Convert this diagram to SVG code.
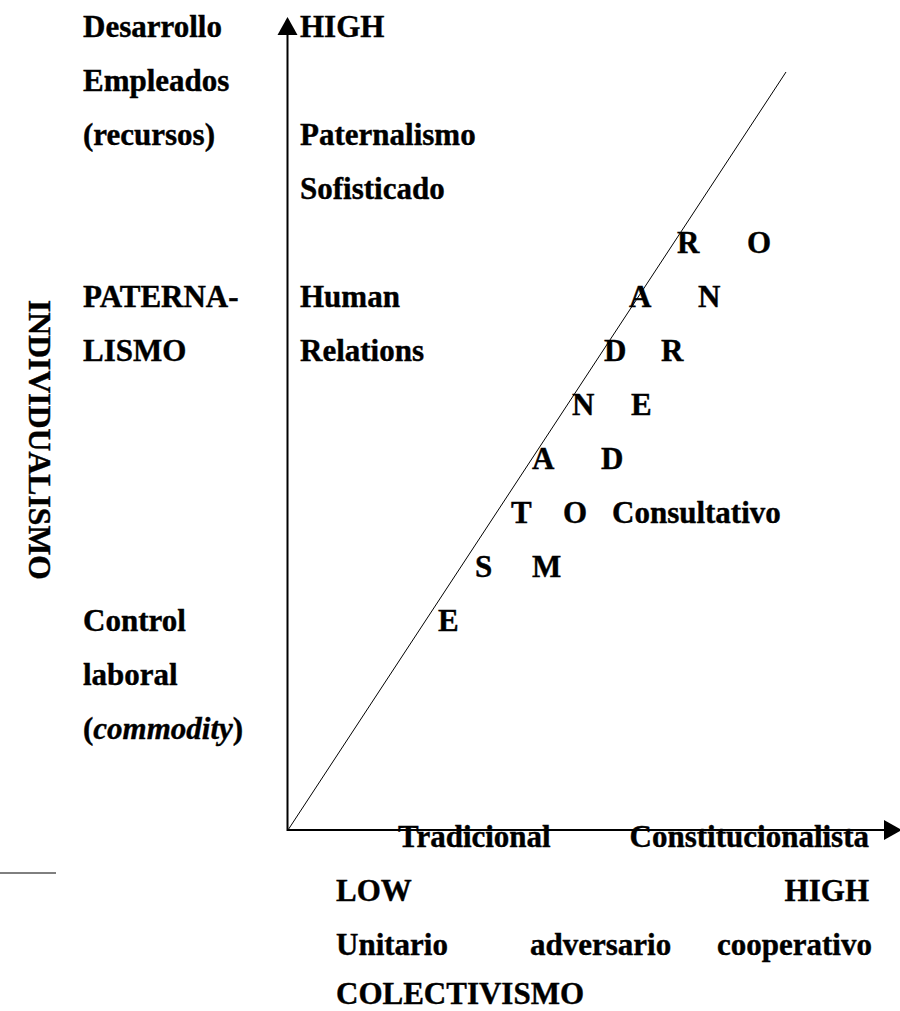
<svg xmlns="http://www.w3.org/2000/svg" width="900" height="1011" viewBox="0 0 900 1011">
  <style>
    text { font-family: "Liberation Serif", "Times New Roman", serif; font-weight: bold; font-size: 31px; fill: #000; stroke: #000; stroke-width: 0.4; }
    .it { font-style: italic; }
    .axis { stroke: #000; stroke-width: 2; fill: none; }
    .thin { stroke: #000; stroke-width: 1; fill: none; }
  </style>
  <defs>
    <marker id="arrow" markerUnits="userSpaceOnUse" markerWidth="18" markerHeight="20" refX="0" refY="10" orient="auto" overflow="visible">
      <path d="M0,0 L18,10 L0,20 z" fill="#000"/>
    </marker>
  </defs>

  <rect width="900" height="1011" fill="#fff"/>

  <!-- axes, diagonal and separator rule -->
  <g id="connectors">
    <line class="axis" x1="287.5" y1="831" x2="287.5" y2="35" marker-end="url(#arrow)"/>
    <line class="axis" x1="287" y1="830" x2="884" y2="830" marker-end="url(#arrow)"/>
    <line class="thin" x1="288" y1="830" x2="786" y2="72"/>
    <line class="thin" x1="0" y1="873" x2="56" y2="873"/>
  </g>

  <!-- vertical axis title -->
  <g id="individualismo">
    <text transform="translate(29,300) rotate(90)" font-size="32" textLength="280" lengthAdjust="spacingAndGlyphs">INDIVIDUALISMO</text>
  </g>

  <!-- left column labels -->
  <g id="desarrollo-empleados">
    <text x="83" y="37">Desarrollo</text>
    <text x="83" y="91">Empleados</text>
    <text x="83" y="145">(recursos)</text>
  </g>
  <g id="paternalismo-left">
    <text x="83" y="307">PATERNA-</text>
    <text x="83" y="361">LISMO</text>
  </g>
  <g id="control-laboral">
    <text x="83" y="631">Control</text>
    <text x="83" y="685">laboral</text>
    <text x="83" y="739">(<tspan class="it">commodity</tspan>)</text>
  </g>

  <!-- labels beside the vertical axis -->
  <g id="high-top">
    <text x="300" y="37">HIGH</text>
  </g>
  <g id="paternalismo-sofisticado">
    <text x="300" y="145">Paternalismo</text>
    <text x="300" y="199">Sofisticado</text>
  </g>
  <g id="human-relations">
    <text x="300" y="307">Human</text>
    <text x="300" y="361">Relations</text>
  </g>

  <!-- spelled-out words along the diagonal -->
  <g id="estandar">
    <text x="438" y="631">E</text>
    <text x="475" y="577">S</text>
    <text x="511" y="523">T</text>
    <text x="532" y="469">A</text>
    <text x="572" y="415">N</text>
    <text x="604" y="361">D</text>
    <text x="629" y="307">A</text>
    <text x="677" y="253">R</text>
  </g>
  <g id="moderno">
    <text x="532" y="577">M</text>
    <text x="563" y="523">O</text>
    <text x="601" y="469">D</text>
    <text x="631" y="415">E</text>
    <text x="661" y="361">R</text>
    <text x="698" y="307">N</text>
    <text x="747" y="253">O</text>
  </g>
  <g id="consultativo">
    <text x="612" y="523">Consultativo</text>
  </g>

  <!-- horizontal axis labels -->
  <g id="tradicional">
    <text x="398" y="847">Tradicional</text>
  </g>
  <g id="constitucionalista">
    <text x="869" y="847" text-anchor="end">Constitucionalista</text>
  </g>
  <g id="low">
    <text x="336" y="901">LOW</text>
  </g>
  <g id="high-right">
    <text x="869" y="901" text-anchor="end">HIGH</text>
  </g>
  <g id="unitario">
    <text x="336" y="955">Unitario</text>
  </g>
  <g id="adversario">
    <text x="530" y="955">adversario</text>
  </g>
  <g id="cooperativo">
    <text x="872" y="955" text-anchor="end">cooperativo</text>
  </g>
  <g id="colectivismo">
    <text x="336" y="1004">COLECTIVISMO</text>
  </g>
</svg>
